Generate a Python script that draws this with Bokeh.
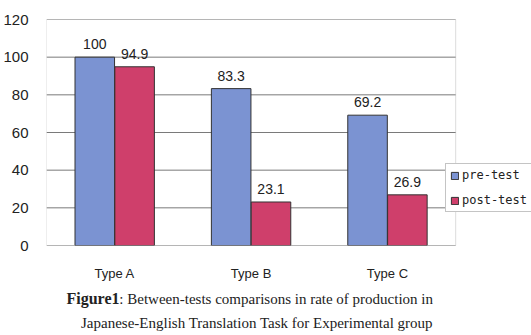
from bokeh.plotting import figure
from bokeh.models import (ColumnDataSource, LabelSet, Label, Legend, LegendItem, Range1d,
                          FixedTicker, BoxAnnotation)
from bokeh.layouts import column
from bokeh.core.properties import value
from bokeh.embed import file_html
from bokeh.resources import INLINE

categories = ["Type A", "Type B", "Type C"]
pre_test = [100, 83.3, 69.2]
post_test = [94.9, 23.1, 26.9]
pre_labels = ["100", "83.3", "69.2"]
post_labels = ["94.9", "23.1", "26.9"]
y_ticks = [0, 20, 40, 60, 80, 100, 120]
series_names = ["pre-test", "post-test"]
caption_bold = "Figure1"
caption_line1 = ": Between-tests comparisons in rate of production in"
caption_line2 = "Japanese-English Translation Task for Experimental group"

n = len(categories)
centers = [i + 0.5 for i in range(n)]
off = 0.146
src = ColumnDataSource(dict(xc=centers,
                            xpre=[c - off for c in centers], xpost=[c + off for c in centers],
                            pre=pre_test, post=post_test, pre_l=pre_labels, post_l=post_labels))

# frame spans to the right edge so the legend (which overlaps the plot border) is not clipped
LEFT = 45
frame_px = 531 - LEFT
cat_px = 410 / n
p = figure(width=531, height=285, x_range=Range1d(0, frame_px / cat_px), y_range=Range1d(0, 120),
           output_backend="svg", toolbar_location=None,
           min_border_left=LEFT, min_border_right=0, min_border_top=19, min_border_bottom=40)
p.background_fill_color = "white"
p.border_fill_color = "white"
p.outline_line_color = None

GRID = "#7a7a7a"
p.segment(x0=[0] * len(y_ticks), x1=[n] * len(y_ticks), y0=y_ticks, y1=y_ticks,
          line_color=GRID, line_width=1)
p.add_layout(BoxAnnotation(left=0, right=n, bottom=0, top=120, fill_alpha=0,
                           line_color="#8a8a8a", line_width=1))

BLUE = "#7b93d2"
RED = "#cf3f6b"
r1 = p.vbar(x="xpre", top="pre", width=0.29, source=src,
            fill_color=BLUE, line_color="#333333", line_width=1)
r2 = p.vbar(x="xpost", top="post", width=0.29, source=src,
            fill_color=RED, line_color="#333333", line_width=1)

lab_font = "Liberation Sans"
p.add_layout(LabelSet(x="xpre", y="pre", text="pre_l", source=src,
                      text_align="center", text_baseline="bottom", y_offset=8,
                      text_font=value(lab_font), text_font_size="14px", text_color="#222222"))
p.add_layout(LabelSet(x="xpost", y="post", text="post_l", source=src,
                      text_align="center", text_baseline="bottom", y_offset=8,
                      text_font=value(lab_font), text_font_size="14px", text_color="#222222"))

p.yaxis.ticker = FixedTicker(ticks=y_ticks)
p.yaxis.axis_line_color = None
p.yaxis.major_tick_line_color = None
p.yaxis.minor_tick_line_color = None
p.yaxis.major_label_standoff = 12
p.yaxis.major_label_text_font = lab_font
p.yaxis.major_label_text_font_size = "15px"
p.yaxis.major_label_text_color = "#222222"

p.xaxis.ticker = FixedTicker(ticks=centers)
p.xaxis.major_label_overrides = {c: cat for c, cat in zip(centers, categories)}
p.xaxis.axis_line_color = None
p.xaxis.major_tick_line_color = None
p.xaxis.minor_tick_line_color = None
p.xaxis.major_label_standoff = 14
p.xaxis.major_label_text_font = lab_font
p.xaxis.major_label_text_font_size = "13px"
p.xaxis.major_label_text_color = "#222222"

p.xgrid.grid_line_color = None
p.ygrid.grid_line_color = None

legend = Legend(items=[LegendItem(label=series_names[0], renderers=[r1]),
                       LegendItem(label=series_names[1], renderers=[r2])],
                location=(399, 33), orientation="vertical")
legend.label_text_font = "DejaVu Sans Mono"
legend.label_text_font_size = "12px"
legend.label_text_color = "#222222"
legend.glyph_width = 9
legend.glyph_height = 9
legend.label_standoff = 3
legend.spacing = 11
legend.padding = 4
legend.margin = 0
legend.border_line_color = "#8a8a8a"
legend.background_fill_color = "white"
legend.background_fill_alpha = 1
p.add_layout(legend, "center")

# caption panel: x data coordinates equal canvas pixels
c = figure(width=531, height=50, x_range=Range1d(LEFT, 531), y_range=Range1d(50, 0),
           output_backend="svg", toolbar_location=None, x_axis_type=None, y_axis_type=None,
           min_border_left=LEFT, min_border_right=0, min_border_top=0, min_border_bottom=0)
c.grid.grid_line_color = None
c.outline_line_color = None
c.background_fill_color = "white"
c.border_fill_color = "white"
c.add_layout(Label(x=65, y=13, text=caption_bold,
                   text_font="Liberation Serif", text_font_style="bold", text_font_size="16px",
                   text_baseline="middle", text_align="left", text_color="#222222"))
c.add_layout(Label(x=118, y=13, text=caption_line1,
                   text_font="Liberation Serif", text_font_size="15px",
                   text_baseline="middle", text_align="left", text_color="#222222"))
c.add_layout(Label(x=256, y=37, text=caption_line2,
                   text_font="Liberation Serif", text_font_size="15px",
                   text_baseline="middle", text_align="center", text_color="#222222"))

layout = column(p, c, spacing=0)
open("out.html", "w").write(file_html(layout, INLINE))
